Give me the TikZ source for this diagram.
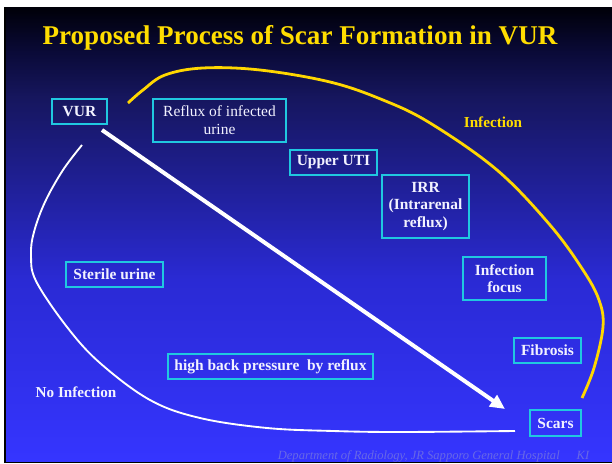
\documentclass[tikz,border=0pt]{standalone}
\usepackage{fontspec}
\setmainfont{Liberation Serif}
\usetikzlibrary{arrows.meta}
\definecolor{bgA}{HTML}{3535FF}
\definecolor{bgB}{HTML}{2A2AD4}
\definecolor{bgC}{HTML}{16165E}
\definecolor{bgD}{HTML}{0A0A38}
\definecolor{bgE}{HTML}{000008}
\definecolor{boxline}{HTML}{20C8E0}
\definecolor{boxtext}{HTML}{F2F2FF}
\definecolor{ttl}{HTML}{FFDD00}
\definecolor{yline}{HTML}{FFD700}
\definecolor{foot}{HTML}{6868E6}
\pgfdeclareverticalshading{slidebg}{100bp}{color(0bp)=(bgA); color(25bp)=(bgA); color(45bp)=(bgB); color(65bp)=(bgC); color(70bp)=(bgD); color(75bp)=(bgE); color(100bp)=(bgE)}
\tikzset{
  box/.style 2 args={draw=boxline, line width=1.1pt, text=boxtext, inner sep=0pt, align=center,
    minimum width=#1*0.75pt, minimum height=#2*0.75pt,
    font=\fontsize{11.6}{13}\selectfont\bfseries},
  plainbox/.style 2 args={box={#1}{#2}, font=\fontsize{11.6}{13.5}\selectfont},
  lbl/.style={inner sep=0pt, font=\fontsize{11.4}{13}\selectfont\bfseries},
  yellowcurve/.style={draw=yline, line width=2.1pt},
  whitecurve/.style={draw=white, line width=1.4pt},
  bigarrow/.style={draw=white, line width=3pt, -{Triangle[length=11pt,width=10pt]}},
  footstyle/.style={text=foot, font=\fontsize{9.4}{11}\selectfont\itshape, inner sep=0pt}
}
\begin{document}
\begin{tikzpicture}[x=0.75pt,y=-0.75pt]
\useasboundingbox (0,0) rectangle (612,464);
\fill[white] (0,0) rectangle (612,464);
\fill[black] (4,7) rectangle (612,463);
\shade[shading=slidebg] (6,7) rectangle (612,461);

\node[text=ttl, font=\fontsize{20.3}{23}\selectfont\bfseries] (title) at (300,38) {Proposed Process of Scar Formation in VUR};

\node[box={55}{25}] (vur) at (79.5,111.5) {VUR};
\node[plainbox={133}{43}] (reflux) at (219.5,120.5) {Reflux of infected\\urine};
\node[box={87}{25}] (uti) at (333.5,162.5) {Upper UTI};
\node[box={87}{63}] (irr) at (425.5,206.5) {IRR\\(Intrarenal\\reflux)};
\node[box={83}{43}] (focus) at (504.5,278.5) {Infection\\focus};
\node[box={67}{25}] (fib) at (547.5,350.5) {Fibrosis};
\node[box={51}{26}] (scars) at (555.5,423) {Scars};
\node[box={97}{25}] (sterile) at (114.5,274.5) {Sterile urine};
\node[box={205}{25}] (hbp) at (270.5,366.5) {high back pressure\ \ by reflux};

\node[lbl, text=ttl] (inf) at (493,122) {Infection};
\node[lbl, text=boxtext] (noinf) at (76,392) {No Infection};

\node[footstyle, anchor=base east] (dept) at (560,459) {Department of Radiology, JR Sapporo General Hospital};
\node[footstyle, anchor=base] (ki) at (583,459) {KI};

\coordinate (ys) at (128,103);
\coordinate (ye) at (582,398);
\draw[yellowcurve] plot[smooth, tension=0.6] coordinates {(ys) (143,90) (165,75) (203,68) (260,70) (330,82) (383,100) (430,123) (497,170) (550,225) (583,270) (599,300) (603,327) (594,368) (ye)};

\coordinate (ws) at (82,145);
\coordinate (we) at (515,431);
\draw[whitecurve] plot[smooth, tension=0.6] coordinates {(ws) (63,170) (45,202) (34,232) (31,255) (36,281) (67,327) (100,363) (150,400) (200,418) (267,428) (333,431) (400,432) (we)};

\coordinate (as) at (102,130);
\coordinate (ae) at (505,409);
\draw[bigarrow] (as) -- (ae);
\end{tikzpicture}
\end{document}
